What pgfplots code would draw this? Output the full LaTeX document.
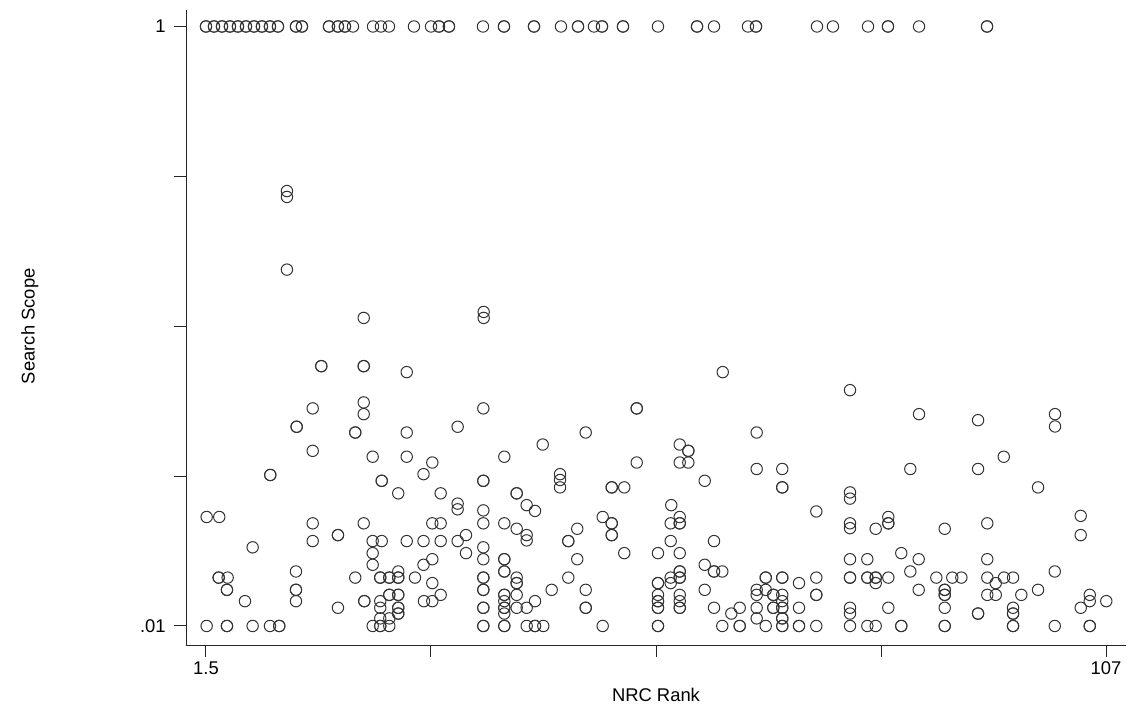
\documentclass[border=0pt]{standalone}
\usepackage{fontspec}
\setmainfont{Liberation Sans}
\usepackage{pgfplots}
\pgfplotsset{compat=1.18}
\begin{document}
\fontsize{9bp}{11bp}\selectfont
\begin{tikzpicture}
\useasboundingbox (0,0) rectangle (567bp,358.5bp);
\begin{axis}[
  at={(93bp,36bp)}, anchor=south west,
  scale only axis, width=470bp, height=317.5bp,
  xmin=-0.84, xmax=109.34,
  ymode=log, ymin=0.00864, ymax=1.135,
  axis x line*=bottom, axis y line*=left,
  axis line style={line width=0.5bp, black!85, -},
  every tick/.style={line width=0.5bp, black!85},
  tick align=outside, major tick length=6bp,
  xtick={1.5,27.875,54.25,80.625,107}, xticklabels={1.5,,,,107},
  ytick={0.01,0.0316228,0.1,0.316228,1}, yticklabels={.01,,,,1},
  minor tick num=0,
  /pgf/number format/assume math mode=true,
  ticklabel style={font=\fontsize{9.2bp}{11bp}\selectfont},
  xticklabel style={yshift=1bp},
  yticklabel style={xshift=-1bp},
  label style={font=\fontsize{9.2bp}{11bp}\selectfont},
  xlabel={NRC Rank},
  ylabel={Search Scope},
  xlabel style={at={(axis description cs:0.5,-0.0787)}, anchor=center},
  ylabel style={at={(axis description cs:-0.166,0.502)}, anchor=center, rotate=0},
  clip=false,
]
\addplot[only marks, mark=o, mark size=2.85bp, mark options={line width=0.5bp, draw=black!80}] table {
x y
1.5 1
1.5 1
2.44 1
2.44 1
3.38 1
3.38 1
4.31 1
4.31 1
5.25 1
5.25 1
6.19 1
6.19 1
7.13 1
7.13 1
8.06 1
8.06 1
9.00 1
9.00 1
9.94 1
9.94 1
12.05 1
12.05 1
12.75 1
12.75 1
15.92 1
15.92 1
16.97 1
16.97 1
17.79 1
17.79 1
18.73 1
21.08 1
22.01 1
22.95 1
25.88 1
27.88 1
28.81 1
28.81 1
29.98 1
29.98 1
33.97 1
36.43 1
36.43 1
39.95 1
39.95 1
43.11 1
45.11 1
45.11 1
46.98 1
47.92 1
47.92 1
50.38 1
50.38 1
54.48 1
59.06 1
59.06 1
61.05 1
65.03 1
65.97 1
65.97 1
73.12 1
74.99 1
79.10 1
81.44 1
81.44 1
85.08 1
93.05 1
93.05 1
10.99 0.2825
10.99 0.270
10.99 0.1545
19.99 0.1066
34.05 0.1116
34.05 0.1066
15.02 0.0736
15.02 0.0736
19.99 0.0736
19.99 0.0736
25.03 0.0703
62.07 0.0703
76.99 0.0612
14.01 0.0532
19.99 0.0557
19.99 0.0509
12.13 0.0462
12.13 0.0462
19.00 0.0442
19.00 0.0442
25.03 0.0442
14.01 0.0384
21.04 0.0367
25.03 0.0367
9.04 0.0319
9.04 0.0319
27.00 0.0321
22.10 0.0305
22.10 0.0305
24.04 0.0277
1.58 0.0231
3.06 0.0231
34.01 0.0532
31.00 0.0462
46.01 0.0442
51.99 0.0532
51.99 0.0532
40.97 0.0403
36.47 0.0367
28.03 0.0351
51.99 0.0351
43.00 0.0321
43.00 0.0307
43.00 0.0290
34.01 0.0305
34.01 0.0305
49.06 0.0290
49.06 0.0290
50.53 0.0290
29.01 0.0277
37.92 0.0277
37.92 0.0277
31.00 0.0256
31.00 0.0245
39.09 0.0253
40.07 0.0242
34.01 0.0243
66.05 0.0442
57.03 0.0403
58.04 0.0384
58.04 0.0384
57.03 0.0351
58.04 0.0351
66.05 0.0334
69.05 0.0334
69.05 0.0290
69.05 0.0290
59.96 0.0305
76.99 0.0279
76.99 0.0266
56.04 0.0253
73.04 0.0241
85.08 0.0509
92.00 0.0486
101.02 0.0509
101.02 0.0463
95.01 0.0367
84.06 0.0334
92.00 0.0334
99.03 0.0290
104.03 0.0233
14.01 0.0220
19.99 0.0220
16.97 0.0201
16.97 0.0201
14.01 0.0192
21.04 0.0192
22.10 0.0192
25.03 0.0192
27.00 0.0192
6.97 0.0183
21.04 0.0175
21.04 0.0160
27.00 0.0160
12.05 0.0152
24.04 0.0152
2.99 0.0145
2.99 0.0145
4.04 0.0145
3.96 0.0132
3.96 0.0132
12.05 0.0132
12.05 0.0132
19.00 0.0145
21.93 0.0145
21.93 0.0145
22.99 0.0145
22.99 0.0145
24.04 0.0145
24.04 0.0145
26.00 0.0145
6.07 0.0121
12.05 0.0121
20.06 0.0121
20.06 0.0121
21.93 0.0121
22.99 0.0127
22.99 0.0127
24.04 0.0127
24.04 0.0127
21.93 0.0115
24.04 0.0115
24.04 0.0115
24.04 0.0110
24.04 0.0110
16.97 0.0115
21.93 0.0106
22.99 0.0106
1.58 0.01
3.96 0.01
3.96 0.01
6.97 0.01
9.00 0.01
10.09 0.01
10.09 0.01
21.04 0.01
21.93 0.01
21.93 0.01
22.99 0.01
28.03 0.0220
29.01 0.0220
34.01 0.0220
36.47 0.0220
37.92 0.0211
39.09 0.0201
39.09 0.0193
48.00 0.0231
49.06 0.0220
49.06 0.0220
49.06 0.0201
49.06 0.0201
45.02 0.0211
43.97 0.0192
43.97 0.0192
29.01 0.0192
31.00 0.0192
31.98 0.0201
34.01 0.0183
31.98 0.0175
34.01 0.0167
28.03 0.0167
36.47 0.0167
36.47 0.0167
36.47 0.0152
36.47 0.0152
45.02 0.0167
50.53 0.0175
28.03 0.0139
34.01 0.0145
34.01 0.0145
37.92 0.0145
37.92 0.0139
37.92 0.0139
43.97 0.0145
34.01 0.0132
34.01 0.0132
36.47 0.0127
36.47 0.0127
36.47 0.0121
37.92 0.0127
42.02 0.0132
46.01 0.0132
27.05 0.0121
28.03 0.0121
29.01 0.0127
40.07 0.0121
34.01 0.0115
34.01 0.0115
36.47 0.0115
36.47 0.0115
36.47 0.0110
37.92 0.0115
39.09 0.0115
46.01 0.0115
46.01 0.0115
34.01 0.01
34.01 0.01
36.47 0.01
36.47 0.01
39.09 0.01
40.07 0.01
40.07 0.01
41.04 0.01
48.00 0.01
57.03 0.0231
55.97 0.0220
57.03 0.0220
57.03 0.0220
76.99 0.0220
76.99 0.0212
80.00 0.0211
81.48 0.0231
81.48 0.0220
81.48 0.0220
55.97 0.0192
61.05 0.0192
54.48 0.0175
57.03 0.0175
76.99 0.0167
79.02 0.0167
59.96 0.0160
61.05 0.0152
61.05 0.0152
62.02 0.0152
57.03 0.0152
57.03 0.0152
57.03 0.0145
57.03 0.0145
55.97 0.0145
55.97 0.0139
54.48 0.0139
54.48 0.0139
67.11 0.0145
67.11 0.0145
69.05 0.0145
69.05 0.0145
71.01 0.0139
73.04 0.0145
76.99 0.0145
76.99 0.0145
79.02 0.0145
79.02 0.0145
80.00 0.0145
80.00 0.0145
80.00 0.0139
81.48 0.0145
59.96 0.0132
66.05 0.0132
66.05 0.0127
67.11 0.0132
68.00 0.0127
68.00 0.0127
69.05 0.0127
69.05 0.0121
73.04 0.0127
73.04 0.0127
54.48 0.0127
54.48 0.0121
54.48 0.0121
54.48 0.0115
54.48 0.0115
57.03 0.0127
57.03 0.0121
57.03 0.0115
57.03 0.0115
61.05 0.0115
63.08 0.0110
64.06 0.0115
66.05 0.0115
68.00 0.0115
68.00 0.0115
69.05 0.0115
69.05 0.0115
71.01 0.0115
76.99 0.0115
76.99 0.0110
81.48 0.0115
66.05 0.0106
69.05 0.0106
69.05 0.0106
54.48 0.01
54.48 0.01
62.02 0.01
64.06 0.01
64.06 0.01
67.11 0.01
69.05 0.01
69.05 0.01
71.01 0.01
71.01 0.01
73.04 0.01
76.99 0.01
79.02 0.01
80.00 0.01
88.09 0.0211
93.08 0.0220
104.03 0.0201
83.00 0.0175
85.04 0.0167
93.08 0.0167
84.06 0.0152
100.99 0.0152
87.11 0.0145
88.98 0.0145
90.04 0.0145
93.08 0.0145
94.07 0.0139
95.04 0.0145
96.10 0.0145
85.04 0.0132
88.09 0.0132
88.09 0.0132
88.09 0.0127
88.09 0.0127
93.08 0.0127
94.07 0.0127
97.07 0.0127
99.03 0.0132
105.09 0.0127
105.09 0.0121
107.03 0.0121
104.03 0.0115
88.09 0.0115
92.00 0.0110
92.00 0.0110
96.10 0.0115
96.10 0.0110
96.10 0.0110
83.00 0.01
83.00 0.01
88.09 0.01
88.09 0.01
96.10 0.01
96.10 0.01
100.99 0.01
105.09 0.01
105.09 0.01
};
\end{axis}
\end{tikzpicture}
\end{document}
